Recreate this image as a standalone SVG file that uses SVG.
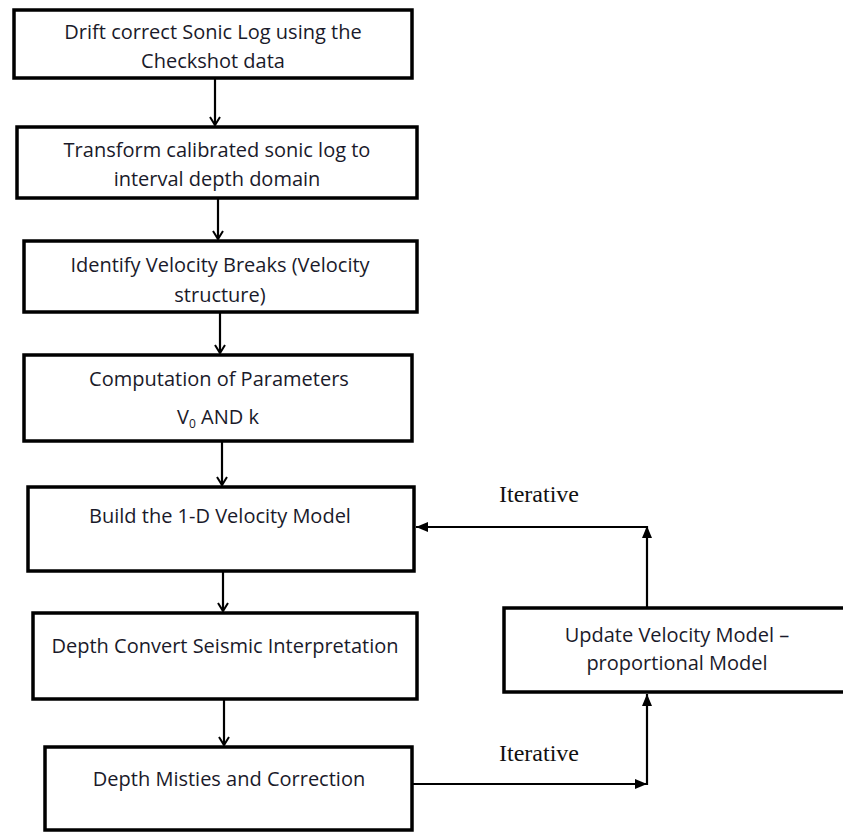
<svg xmlns="http://www.w3.org/2000/svg" width="843" height="832" viewBox="0 0 843 832">
<style>
.box{fill:#fff;stroke:#000;stroke-width:3.5}
.t{font-family:"Open Sans","Liberation Sans",sans-serif;font-size:20px;fill:#1a1a2a;text-anchor:middle}
.it{font-family:"Liberation Serif","Times New Roman",serif;font-size:24px;fill:#111}
.c{fill:none;stroke:#000;stroke-width:2.2}
</style>
<defs>
<marker id="v" markerWidth="12" markerHeight="12" refX="10" refY="6" orient="auto" markerUnits="userSpaceOnUse">
<path d="M2,1 L10,6 L2,11" fill="none" stroke="#000" stroke-width="2"/>
</marker>
<marker id="f" markerWidth="14" markerHeight="12" refX="12" refY="6" orient="auto" markerUnits="userSpaceOnUse">
<path d="M0,1 L12,6 L0,11 Z" fill="#000"/>
</marker>
</defs>
<rect width="843" height="832" fill="#fff"/>
<g id="connectors">
<line class="c" x1="215" y1="78" x2="215" y2="125" marker-end="url(#v)"/>
<line class="c" x1="218" y1="198" x2="218" y2="239" marker-end="url(#v)"/>
<line class="c" x1="220" y1="312" x2="220" y2="353" marker-end="url(#v)"/>
<line class="c" x1="222" y1="441" x2="222" y2="485" marker-end="url(#v)"/>
<line class="c" x1="223" y1="571" x2="223" y2="611" marker-end="url(#v)"/>
<line class="c" x1="224" y1="699" x2="224" y2="745" marker-end="url(#v)"/>
<line class="c" x1="413" y1="784" x2="647" y2="784" marker-end="url(#f)"/>
<line class="c" x1="647" y1="785" x2="647" y2="694" marker-end="url(#f)"/>
<line class="c" x1="647" y1="607" x2="647" y2="526" marker-end="url(#f)"/>
<line class="c" x1="648" y1="527" x2="416" y2="527" marker-end="url(#f)"/>
</g>
<g id="n1"><rect class="box" x="14" y="10" width="398" height="68"/>
<text class="t" x="213" y="39">Drift correct Sonic Log using the</text>
<text class="t" x="213" y="68">Checkshot data</text></g>
<g id="n2"><rect class="box" x="17" y="127" width="400" height="71"/>
<text class="t" x="217" y="157">Transform calibrated sonic log to</text>
<text class="t" x="217" y="186">interval depth domain</text></g>
<g id="n3"><rect class="box" x="24" y="241" width="393" height="71"/>
<text class="t" x="220" y="272">Identify Velocity Breaks (Velocity</text>
<text class="t" x="220" y="302">structure)</text></g>
<g id="n4"><rect class="box" x="24" y="355" width="388" height="86"/>
<text class="t" x="219" y="386">Computation of Parameters</text>
<text class="t" x="218" y="424">V<tspan font-size="12" dy="4">0</tspan><tspan dy="-4"> AND k</tspan></text></g>
<g id="n5"><rect class="box" x="28" y="487" width="386" height="84"/>
<text class="t" x="220" y="523">Build the 1-D Velocity Model</text></g>
<g id="n6"><rect class="box" x="33" y="613" width="384" height="86"/>
<text class="t" x="225" y="653">Depth Convert Seismic Interpretation</text></g>
<g id="n7"><rect class="box" x="45" y="747" width="367" height="83"/>
<text class="t" x="229" y="786">Depth Misties and Correction</text></g>
<g id="n8"><rect class="box" x="504" y="608" width="345" height="84"/>
<text class="t" x="677" y="642">Update Velocity Model –</text>
<text class="t" x="677" y="670">proportional Model</text></g>
<g id="labels">
<text class="it" x="499" y="502">Iterative</text>
<text class="it" x="499" y="761">Iterative</text>
</g>
</svg>
